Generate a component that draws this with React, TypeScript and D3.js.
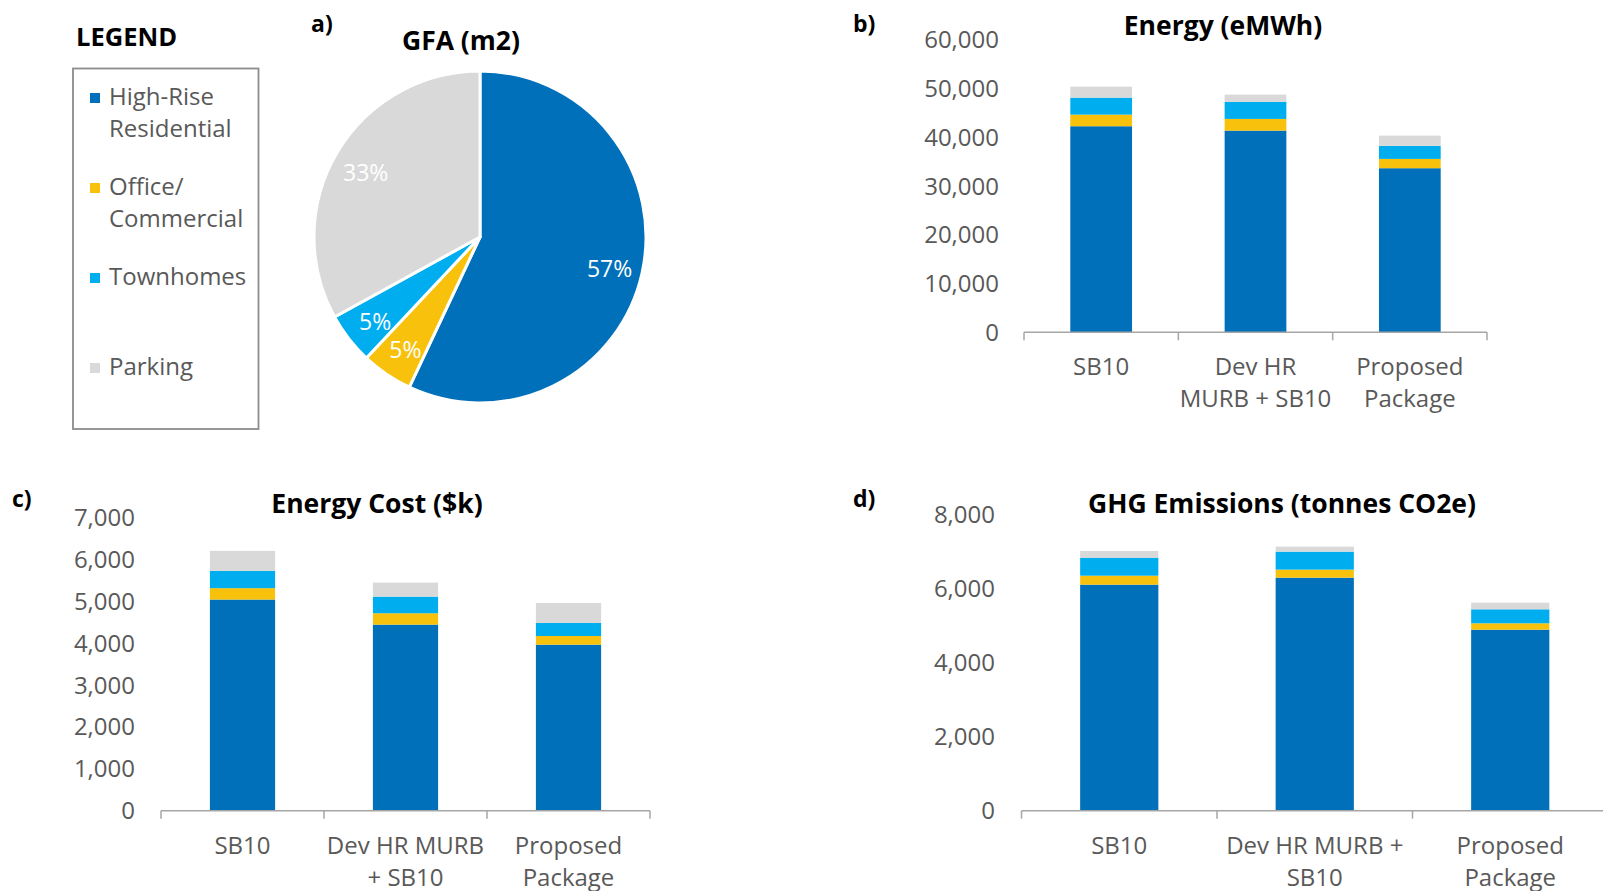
import React from 'react';
import * as d3 from 'd3';

// series shared by every panel
const seriesKeys = ['High-Rise Residential', 'Office/ Commercial', 'Townhomes', 'Parking'];
const seriesColors = ['#0070BB', '#F8C20C', '#00AEEF', '#D9D9D9'];
const legendLines = [['High-Rise', 'Residential'], ['Office/', 'Commercial'], ['Townhomes'], ['Parking']];

// a) GFA share (%)
const gfaShare = [57, 5, 5, 33];

// b) Energy (eMWh)
const energyCats = [['SB10'], ['Dev HR', 'MURB + SB10'], ['Proposed', 'Package']];
const energyHighRise = [42300, 41400, 33680];
const energyOffice = [2380, 2400, 1910];
const energyTownhomes = [3490, 3490, 2670];
const energyParking = [2260, 1500, 2110];
const energyTicks = [0, 10000, 20000, 30000, 40000, 50000, 60000];

// c) Energy cost ($k)
const costCats = [['SB10'], ['Dev HR MURB', '+ SB10'], ['Proposed', 'Package']];
const costHighRise = [5050, 4450, 3970];
const costOffice = [272, 272, 208];
const costTownhomes = [413, 398, 311];
const costParking = [479, 335, 479];
const costTicks = [0, 1000, 2000, 3000, 4000, 5000, 6000, 7000];

// d) GHG emissions (tonnes CO2e)
const ghgCats = [['SB10'], ['Dev HR MURB +', 'SB10'], ['Proposed', 'Package']];
const ghgHighRise = [6115, 6305, 4897];
const ghgOffice = [243, 217, 173];
const ghgTownhomes = [487, 487, 379];
const ghgParking = [182, 135, 179];
const ghgTicks = [0, 2000, 4000, 6000, 8000];

const FONT = '"Open Sans", sans-serif';
const GREY_TEXT = '#595959';
const fmt = d3.format(',');

function BarPanel({ cats, series, ticks, left, right, top, bottom, labelRight, title, titleX, titleY, letter, letterX, letterY }) {
  const ids = cats.map((_, i) => String(i));
  const x = d3.scaleBand().domain(ids).range([left, right]).paddingInner(0.6).paddingOuter(0.3);
  const y = d3.scaleLinear().domain([0, ticks[ticks.length - 1]]).range([bottom, top]);
  const rows = ids.map((_, i) => {
    const r = {};
    seriesKeys.forEach((k, j) => { r[k] = series[j][i]; });
    return r;
  });
  const layers = d3.stack().keys(seriesKeys)(rows);
  const step = x.step();
  const edges = d3.range(cats.length + 1).map(i => (i < cats.length ? x(ids[i]) - step * 0.3 : x(ids[i - 1]) + x.bandwidth() + step * 0.3));

  return (
    <g>
      <text x={letterX} y={letterY} fontFamily={FONT} fontWeight={700} fontSize={23} fill="#000">{letter}</text>
      <text x={titleX} y={titleY} textAnchor="middle" fontFamily={FONT} fontWeight={700} fontSize={26.5} fill="#000">{title}</text>
      {ticks.map(t => (
        <text key={t} x={labelRight} y={y(t)} dy="0.35em" textAnchor="end" fontFamily={FONT} fontSize={24} fill={GREY_TEXT}>{fmt(t)}</text>
      ))}
      {layers.map((layer, li) => (
        <g key={layer.key} fill={seriesColors[li]}>
          {layer.map((d, i) => (
            <rect key={i} x={x(ids[i])} width={x.bandwidth()} y={y(d[1])} height={y(d[0]) - y(d[1])} />
          ))}
        </g>
      ))}
      <line x1={left} x2={right} y1={bottom} y2={bottom} stroke="#A6A6A6" strokeWidth={1.5} />
      {edges.map((e, i) => (
        <line key={i} x1={e} x2={e} y1={bottom} y2={bottom + 8} stroke="#A6A6A6" strokeWidth={1.5} />
      ))}
      {cats.map((lines, i) => (
        <text key={i} textAnchor="middle" fontFamily={FONT} fontSize={24} fill={GREY_TEXT}>
          {lines.map((ln, k) => (
            <tspan key={k} x={x(ids[i]) + x.bandwidth() / 2} y={bottom + 43 + k * 32}>{ln}</tspan>
          ))}
        </text>
      ))}
    </g>
  );
}

function PiePanel() {
  const cx = 480, cy = 237, r = 166;
  const pie = d3.pie().sort(null).value(d => d);
  const arcs = pie(gfaShare);
  const arc = d3.arc().innerRadius(0).outerRadius(r);
  const labelArc = d3.arc().innerRadius(r * 0.8).outerRadius(r * 0.8);
  const total = d3.sum(gfaShare);
  const pct = d3.format('.0%');
  return (
    <g>
      <text x={311} y={32} fontFamily={FONT} fontWeight={700} fontSize={23} fill="#000">a)</text>
      <text x={461} y={50} textAnchor="middle" fontFamily={FONT} fontWeight={700} fontSize={26.5} fill="#000">GFA (m2)</text>
      <g transform={`translate(${cx},${cy})`}>
        {arcs.map((a, i) => (
          <path key={i} d={arc(a)} fill={seriesColors[i]} stroke="#fff" strokeWidth={3} strokeLinejoin="round" />
        ))}
        {arcs.map((a, i) => {
          const [lx, ly] = labelArc.centroid(a);
          return (
            <text key={'l' + i} x={lx} y={ly} dy="0.5em" textAnchor="middle" fontFamily={FONT} fontSize={23} fill="#fff">
              {pct(a.data / total)}
            </text>
          );
        })}
      </g>
    </g>
  );
}

function Legend() {
  const top = 105, gap = 90;
  return (
    <g>
      <text x={76} y={46} fontFamily={FONT} fontWeight={700} fontSize={25.5} fill="#000">LEGEND</text>
      <rect x={73} y={68.5} width={185.5} height={360.5} fill="none" stroke="#8C8C8C" strokeWidth={1.8} />
      {legendLines.map((lines, i) => (
        <g key={i}>
          <rect x={90} y={top + i * gap - 12} width={10} height={10} fill={seriesColors[i]} />
          <text fontFamily={FONT} fontSize={24} fill={GREY_TEXT}>
            {lines.map((ln, k) => (
              <tspan key={k} x={109} y={top + i * gap + k * 32}>{ln}</tspan>
            ))}
          </text>
        </g>
      ))}
    </g>
  );
}

export default function App() {
  return (
    <svg width={1603} height={891} style={{ position: 'absolute', left: 0, top: 0, background: '#fff' }}>
      <Legend />
      <PiePanel />
      <BarPanel
        cats={energyCats}
        series={[energyHighRise, energyOffice, energyTownhomes, energyParking]}
        ticks={energyTicks}
        left={1024} right={1487} top={40} bottom={332.3} labelRight={999}
        title="Energy (eMWh)" titleX={1223} titleY={35}
        letter="b)" letterX={853} letterY={32}
      />
      <BarPanel
        cats={costCats}
        series={[costHighRise, costOffice, costTownhomes, costParking]}
        ticks={costTicks}
        left={161} right={650} top={518} bottom={810.7} labelRight={135}
        title="Energy Cost ($k)" titleX={377} titleY={513}
        letter="c)" letterX={12} letterY={507}
      />
      <BarPanel
        cats={ghgCats}
        series={[ghgHighRise, ghgOffice, ghgTownhomes, ghgParking]}
        ticks={ghgTicks}
        left={1021.5} right={1608} top={515} bottom={810.7} labelRight={995}
        title="GHG Emissions (tonnes CO2e)" titleX={1282} titleY={513}
        letter="d)" letterX={853} letterY={507}
      />
    </svg>
  );
}
